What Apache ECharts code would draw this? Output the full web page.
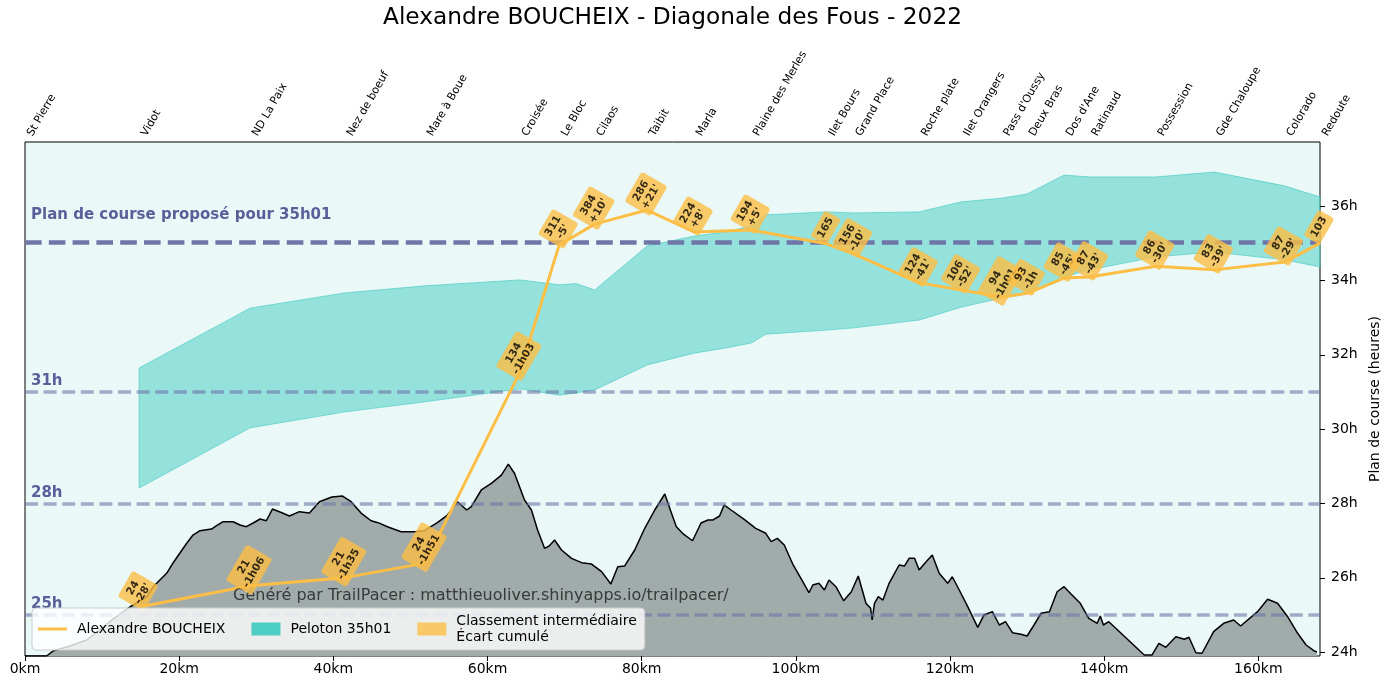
<!DOCTYPE html>
<html>
<head>
<meta charset="utf-8">
<script src="https://cdn.jsdelivr.net/npm/echarts@6/dist/echarts.min.js"></script>
<style>
html,body{margin:0;padding:0;background:#ffffff;}
#chart{width:1385px;height:688px;}
</style>
</head>
<body>
<div id="chart"></div>
<script>
// ---------- DATA ----------
const checkpointNames = ["St Pierre","Vidot","ND La Paix","Nez de boeuf","Mare à Boue","Croisée","Le Bloc","Cilaos","Taibit","Marla","Plaine des Merles","Ilet Bours","Grand Place","Roche plate","Ilet Orangers","Pass d'Oussy","Deux Bras","Dos d'Ane","Ratinaud","Possession","Gde Chaloupe","Colorado","Redoute"];
const checkpointKm = [0,14.8,29.2,41.5,51.9,64.2,69.3,73.9,80.7,86.8,94.2,104.0,107.5,116.0,121.5,126.7,130.0,134.8,138.1,146.7,154.3,163.4,168.0];

// runner (from Vidot to Redoute)
const runnerHours = [25.21,25.78,26.00,26.39,31.53,34.95,35.51,35.89,35.30,35.35,34.98,34.71,33.93,33.74,33.55,33.65,34.06,34.09,34.38,34.28,34.49,35.00];
const runnerRank = [24,21,21,24,134,311,384,286,224,194,165,156,124,106,94,93,85,87,86,83,87,103];
const runnerGap = ["-28'","-1h06","-1h35","-1h51","-1h03","-5'","+10'","+21'","+8'","+5'","","-10'","-41'","-52'","-1h01","-1h","-45'","-43'","-30'","-39'","-29'",""];

// peloton band
const pelotonKm = [14.8,29.2,41.5,51.9,64.2,69.3,71.5,73.9,80.7,86.8,90.9,94.2,96.1,104.0,107.5,116.0,121.5,126.7,130.0,134.8,138.1,146.7,154.3,163.4,168.0];
const pelotonHigh = [31.64,33.25,33.66,33.85,34.01,33.88,33.91,33.74,34.92,35.19,35.30,35.46,35.76,35.84,35.81,35.84,36.11,36.21,36.32,36.83,36.78,36.78,36.91,36.54,36.24];
const pelotonLow = [28.41,30.03,30.46,30.73,31.08,30.91,30.97,31.05,31.72,32.04,32.18,32.31,32.55,32.66,32.72,32.93,33.28,33.52,33.63,34.09,34.28,34.63,34.76,34.55,34.36];

// elevation profile (m)
const profileKm = [0,2.8,3.7,5.8,8.0,9.7,11.4,13.6,15.8,16.6,17.5,18.4,19.2,20.1,21.0,21.8,22.7,24.2,24.8,25.7,27.0,27.9,28.7,29.6,30.5,31.3,32.1,33.4,34.3,35.6,36.9,38.2,39.8,41.2,42.3,43.6,44.9,45.8,47.1,48.8,50.6,51.8,53.5,54.8,56.1,57.3,57.9,59.2,60.5,61.8,62.7,63.5,64.8,65.7,66.5,67.4,68.0,68.7,69.6,70.9,72.2,73.5,74.8,76.0,76.9,77.8,79.1,80.4,81.7,83.0,83.8,84.5,85.3,86.6,87.7,88.6,89.2,90.1,90.7,91.6,93.3,94.8,96.1,96.8,97.6,98.5,99.6,100.9,101.7,102.2,103.0,103.7,104.3,105.2,106.2,107.2,108.1,109.1,109.7,109.9,110.2,110.7,111.3,112.1,113.4,114.1,114.7,115.4,116.0,116.9,117.7,118.6,119.7,120.3,121.2,122.3,123.6,124.4,125.5,126.4,127.2,128.1,129.2,130.0,130.9,131.8,132.9,133.9,134.8,135.7,136.9,138.0,139.1,139.5,139.9,140.6,145.2,146.2,147.1,148.0,149.3,150.4,151.0,151.9,152.7,154.2,155.5,156.8,157.7,159.9,161.2,162.5,163.8,165.1,166.2,167.2,167.6];
const profileElev = [0,0,66,125,199,324,460,610,738,859,946,1033,1158,1282,1407,1506,1560,1581,1619,1672,1672,1631,1610,1656,1706,1684,1830,1780,1743,1797,1780,1921,1980,1992,1921,1780,1684,1660,1606,1548,1548,1560,1660,1755,1921,1818,1859,2067,2150,2253,2390,2275,1942,1818,1569,1341,1370,1444,1320,1216,1162,1145,1050,896,1112,1121,1320,1590,1818,2017,1797,1610,1528,1435,1656,1693,1693,1743,1880,1818,1702,1590,1528,1423,1465,1382,1145,925,788,884,905,822,946,863,688,800,996,656,594,448,656,738,697,905,1133,1121,1216,1216,1071,1174,1257,1030,905,987,822,614,357,510,552,386,427,290,270,249,386,532,552,800,863,772,656,469,407,498,386,427,12,12,158,108,240,208,233,41,34,303,407,448,374,552,706,656,489,283,137,66,50];

// axes ticks and reference lines
const kmTicks = [0,20,40,60,80,100,120,140,160];
const hourTicks = [24,26,28,30,32,34,36];
const planTarget = 35.017;
const planLines = [31,28,25];
const planLineLabels = ["31h","28h","25h"];

// ---------- STYLE ----------
const ORANGE = '#FDBE45';
const TEAL = '#4ECDC4';
const PLAN = '#6E76A8';
const PLAN_LIGHT = 'rgba(110,118,168,0.6)';
const PLANTXT = '#5A5F9A';
const FONT = 'DejaVu Sans';
const KM_MAX = 168;

const runnerData = runnerHours.map((h,i)=>[checkpointKm[i+1], h]);
const profileData = profileKm.map((k,i)=>[k, profileElev[i]]);

function cpName(v){
  const i = checkpointKm.findIndex(k=>Math.abs(k-v)<1e-6);
  return i>=0 ? checkpointNames[i] : '';
}

const markData = [{
  yAxis: planTarget,
  lineStyle:{color:PLAN,width:4.5,type:[16.6,7.2]},
  label:{formatter:'Plan de course proposé pour 35h01',distance:[6,20]}
}].concat(planLines.map((v,i)=>({
  yAxis: v,
  lineStyle:{color:PLAN_LIGHT,width:3.5,type:[13,5.6]},
  label:{formatter:planLineLabels[i],distance:[6,3]}
})));

const watermark = {
  type:'text', left:233, top:588, z:8,
  style:{text:'Généré par TrailPacer : matthieuoliver.shinyapps.io/trailpacer/',font:'16px "DejaVu Sans"',fill:'rgba(45,45,45,0.9)'}
};

const chart = echarts.init(document.getElementById('chart'), null, {renderer:'canvas'});
chart.setOption({
  animation:false,
  textStyle:{fontFamily:FONT},
  title:{
    text:'Alexandre BOUCHEIX - Diagonale des Fous - 2022',
    left:378, top:1,
    textStyle:{fontFamily:FONT,fontSize:23.25,fontWeight:'normal',color:'#000'}
  },
  grid:{left:25,right:65,top:142,bottom:32,show:true,borderColor:'#000',borderWidth:1,backgroundColor:'#EAF9F8',outerBoundsMode:'none',containLabel:false},
  legend:{
    left:32, top:608, z:20,
    data:[
      {name:'Alexandre BOUCHEIX', icon:'path://M0,0L30,0L30,3L0,3Z'},
      {name:'Peloton 35h01', icon:'rect'},
      {name:'Classement intermédiaire\nÉcart cumulé', icon:'rect'}
    ],
    itemWidth:29, itemHeight:13, itemGap:26,
    padding:[5,8,5,6],
    backgroundColor:'rgba(255,255,255,0.8)',
    borderColor:'#cccccc', borderWidth:1, borderRadius:4,
    textStyle:{fontFamily:FONT,fontSize:14,color:'#000',lineHeight:16,padding:[0,0,0,5]},
    selectedMode:false
  },
  xAxis:[{
    type:'value', position:'bottom', min:0, max:KM_MAX,
    axisLine:{show:false,onZero:false},
    axisTick:{show:true,customValues:kmTicks,length:5,lineStyle:{color:'#000'}},
    axisLabel:{customValues:kmTicks,formatter:v=>v+'km',fontSize:14,color:'#000',margin:6,fontFamily:FONT},
    splitLine:{show:false}
  },{
    type:'value', position:'top', min:0, max:KM_MAX,
    axisLine:{show:false,onZero:false},
    axisTick:{show:false},
    axisLabel:{customValues:checkpointKm,formatter:v=>cpName(v),rotate:-60,fontSize:11,color:'#000',margin:-2,padding:[0,0,0,10],fontFamily:FONT},
    splitLine:{show:false}
  }],
  yAxis:[{
    type:'value', position:'right', min:23.892, max:37.72,
    axisLine:{show:false,onZero:false},
    axisTick:{show:false},
    axisLabel:{customValues:hourTicks,formatter:v=>v+'h',fontSize:14,color:'#000',margin:11,fontFamily:FONT},
    splitLine:{show:false},
    name:'Plan de course (heures)', nameLocation:'middle', nameGap:41, nameRotate:90,
    nameTextStyle:{fontSize:14,color:'#000',fontFamily:FONT}
  },{
    type:'value', position:'right', min:0, max:6400, show:false,
    axisLine:{show:false,onZero:false}, axisTick:{show:false}, axisLabel:{show:false},
    splitLine:{show:false}
  }],
  graphic:[watermark],
  series:[{
    name:'profile', type:'line', xAxisIndex:0, yAxisIndex:1,
    data:profileData, symbol:'none', silent:true, z:1,
    lineStyle:{color:'#000',width:1.5},
    areaStyle:{color:'#A0ABAA',opacity:1}
  },{
    name:'Peloton 35h01', type:'custom', xAxisIndex:0, yAxisIndex:0, z:2, silent:true,
    itemStyle:{color:TEAL},
    data:[[pelotonKm[0], pelotonLow[0]]],
    renderItem:function(params, api){
      if(params.dataIndex!==0) return null;
      const pts=[];
      for(let i=0;i<pelotonKm.length;i++) pts.push(api.coord([pelotonKm[i],pelotonHigh[i]]));
      for(let i=pelotonKm.length-1;i>=0;i--) pts.push(api.coord([pelotonKm[i],pelotonLow[i]]));
      return {type:'polygon',shape:{points:pts},style:{fill:'rgba(78,205,196,0.55)',stroke:'rgba(78,205,196,0.7)',lineWidth:1}};
    }
  },{
    name:'Alexandre BOUCHEIX', type:'line', xAxisIndex:0, yAxisIndex:0, z:6,
    data:runnerData, symbol:'none', silent:true,
    lineStyle:{color:ORANGE,width:3},
    itemStyle:{color:ORANGE},
    markLine:{
      silent:true, symbol:['none','none'], z:5,
      label:{position:'insideStartTop',color:PLANTXT,fontWeight:'bold',fontSize:15,fontFamily:FONT},
      data:markData
    }
  },{
    name:'Classement intermédiaire\nÉcart cumulé', type:'scatter', xAxisIndex:0, yAxisIndex:0, z:10,
    data:runnerData, symbolSize:1, silent:true,
    itemStyle:{color:ORANGE},
    label:{
      show:true, position:'inside', rotate:60, offset:[13.4,-8.9],
      formatter:p=>runnerRank[p.dataIndex]+(runnerGap[p.dataIndex]?'\n'+runnerGap[p.dataIndex]:''),
      backgroundColor:ORANGE, borderRadius:3, padding:[4,4,3,4],
      color:'#000', fontWeight:'bold', fontSize:10.5, lineHeight:11.5, align:'center', fontFamily:FONT
    }
  }]
});

// right-axis tick marks, positioned through the chart's own y scale
const xRight = chart.convertToPixel({xAxisIndex:0}, KM_MAX);
const tickGraphics = hourTicks.map(v=>{
  const y = Math.round(chart.convertToPixel({yAxisIndex:0}, v)) + 0.5;
  return {type:'line', z:10, silent:true, shape:{x1:xRight, y1:y, x2:xRight+5, y2:y}, style:{stroke:'#000', lineWidth:1}};
});
chart.setOption({graphic:[watermark].concat(tickGraphics)}, {replaceMerge:['graphic']});
</script>
</body>
</html>
